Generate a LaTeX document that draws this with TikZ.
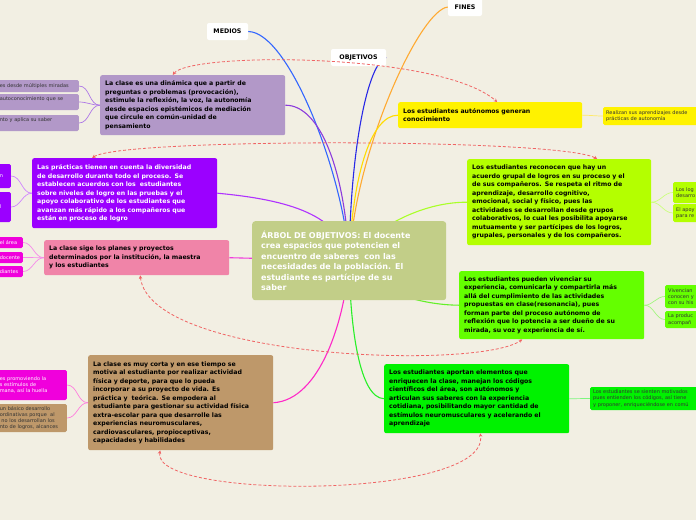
\documentclass[tikz,border=0pt]{standalone}
\usepackage{fontspec}
\setmainfont{DejaVu Sans}
\usetikzlibrary{arrows.meta,backgrounds}

\definecolor{bgcream}{RGB}{242,239,227}
\definecolor{rootgreen}{RGB}{194,206,136}
\definecolor{lilacfill}{RGB}{178,152,200}
\definecolor{violetfill}{RGB}{155,0,255}
\definecolor{pinkfill}{RGB}{240,132,168}
\definecolor{brownfill}{RGB}{190,152,106}
\definecolor{magentafill}{RGB}{240,0,220}
\definecolor{yellowfill}{RGB}{255,242,0}
\definecolor{limefill}{RGB}{180,255,0}
\definecolor{greenfill}{RGB}{100,255,0}
\definecolor{brightgreen}{RGB}{0,242,0}
\definecolor{mediosblue}{RGB}{51,102,255}
\definecolor{objblue}{RGB}{40,40,230}
\definecolor{finesorange}{RGB}{255,170,50}
\definecolor{lilacline}{RGB}{140,60,220}
\definecolor{violetline}{RGB}{175,50,255}
\definecolor{pinkline}{RGB}{240,60,220}
\definecolor{brownline}{RGB}{255,40,200}
\definecolor{yellowline}{RGB}{255,220,0}
\definecolor{limeline}{RGB}{170,255,40}
\definecolor{greenline}{RGB}{100,240,40}
\definecolor{brightline}{RGB}{40,240,40}
\definecolor{relred}{RGB}{240,100,100}

\begin{document}
\begin{tikzpicture}
  [x=1pt, y=-1pt,
   rootbox/.style={rounded corners=3pt, fill=rootgreen, text=white, anchor=north west, align=left,
                   inner xsep=9pt, font=\fontsize{8}{10.5}\selectfont\bfseries},
   topic/.style={rounded corners=2pt, anchor=north west, align=left, inner xsep=5pt,
                 font=\fontsize{6.2}{8.5}\selectfont\bfseries},
   leaf/.style={rounded corners=1.5pt, align=left, inner xsep=3pt, inner ysep=1pt, text=black!80,
                font=\fontsize{5}{6.3}\selectfont},
   tagbox/.style={rounded corners=2pt, fill=white, font=\fontsize{6.3}{7.5}\selectfont\bfseries},
   branch/.style={line width=1.1pt},
   twig/.style={line width=0.7pt},
   relation/.style={<->, >={Stealth[length=3.5pt,width=3.5pt]}, draw=relred, line width=0.8pt,
                    dash pattern=on 3pt off 2pt}]

  \useasboundingbox (0,0) rectangle (696,520);

  % centre
  \node[rootbox, minimum height=79pt, text width=176pt] (root) at (252,221)
    {ÁRBOL DE OBJETIVOS: El docente\\crea espacios que potencien el\\encuentro de saberes \ con las\\necesidades de la población. El\\estudiante es partícipe de su\\saber};

  \node[tagbox, minimum width=41pt, minimum height=17pt] (medios) at (227.5,31.5) {MEDIOS};
  \node[tagbox, minimum width=55pt, minimum height=17pt] (objetivos) at (358.5,57.5) {OBJETIVOS};
  \node[tagbox, minimum width=34pt, minimum height=18pt] (fines) at (465,7) {FINES};

  % main topics
  \node[topic, fill=lilacfill, minimum height=60pt, text width=175pt] (t1) at (100,75)
    {La clase es una dinámica que a partir de\\preguntas o problemas (provocación),\\estimule la reflexión, la voz, la autonomía\\desde espacios epistémicos de mediación\\que circule en común-unidad de\\pensamiento};
  \node[topic, fill=violetfill, text=white, minimum height=70pt, text width=175pt] (t2) at (32,158)
    {Las prácticas tienen en cuenta la diversidad\\de desarrollo durante todo el proceso. Se\\establecen acuerdos con los \ estudiantes\\sobre niveles de logro en las pruebas y el\\apoyo colaborativo de los estudiantes que\\avanzan más rápido a los compañeros que\\están en proceso de logro};
  \node[topic, fill=pinkfill, minimum height=35pt, text width=175pt] (t3) at (44,240)
    {La clase sige los planes y proyectos\\determinados por la institución, la maestra\\y los estudiantes};
  \node[topic, fill=brownfill, minimum height=95pt, text width=175pt] (t4) at (88,355)
    {La clase es muy corta y en ese tiempo se\\motiva al estudiante por realizar actividad\\física y deporte, para que lo pueda\\incorporar a su proyecto de vida. Es\\práctica y \ teórica. Se empodera al\\estudiante para gestionar su actividad física\\extra-escolar para que desarrolle las\\experiencias neuromusculares,\\cardiovasculares, propioceptivas,\\capacidades y habilidades};
  \node[topic, fill=yellowfill, minimum height=26pt, text width=174pt] (t5) at (398,102)
    {Los estudiantes autónomos generan\\conocimiento};
  \node[topic, fill=limefill, minimum height=86pt, text width=174pt] (t6) at (467,159)
    {Los estudiantes reconocen que hay un\\acuerdo grupal de logros en su proceso y el\\de sus compañeros. Se respeta el ritmo de\\aprendizaje, desarrollo cognitivo,\\emocional, social y físico, pues las\\actividades se desarrollan desde grupos\\colaborativos, lo cual les posibilita apoyarse\\mutuamente y ser partícipes de los logros,\\grupales, personales y de los compañeros.};
  \node[topic, fill=greenfill, minimum height=68pt, text width=175pt] (t7) at (459,271)
    {Los estudiantes pueden vivenciar su\\experiencia, comunicarla y compartirla más\\allá del cumplimiento de las actividades\\propuestas en clase(resonancia), pues\\forman parte del proceso autónomo de\\reflexión que lo potencia a ser dueño de su\\mirada, su voz y experiencia de sí.};
  \node[topic, fill=brightgreen, minimum height=69pt, text width=175pt] (t8) at (384,364)
    {Los estudiantes aportan elementos que\\enriquecen la clase, manejan los códigos\\científicos del área, son autónomos y\\articulan sus saberes con la experiencia\\cotidiana, posibilitando mayor cantidad de\\estímulos neuromusculares y acelerando el\\aprendizaje};

  % leaves, left side
  \node[leaf, fill=lilacfill, anchor=east, text width=76pt, minimum height=12pt] (l1) at (79,86) {es desde múltiples miradas};
  \node[leaf, fill=lilacfill, anchor=east, text width=76pt, minimum height=16pt] (l2) at (79,102) {autoconocimiento que se\\\mbox{}};
  \node[leaf, fill=lilacfill, anchor=east, text width=76pt, minimum height=16pt] (l3) at (79,123) {nto y aplica su saber\\\mbox{}};
  \node[leaf, fill=violetfill, text=white, anchor=east, text width=8pt, minimum height=24pt] (l4) at (11,176) {n};
  \node[leaf, fill=violetfill, text=white, anchor=east, text width=8pt, minimum height=30pt] (l5) at (11,207) {l};
  \node[leaf, fill=magentafill, text=white, anchor=east, text width=20pt, minimum height=11pt] (l6) at (23,242.5) {el área};
  \node[leaf, fill=magentafill, text=white, anchor=east, text width=20pt, minimum height=11pt] (l7) at (23,257.5) {docente};
  \node[leaf, fill=magentafill, text=white, anchor=east, text width=20pt, minimum height=11pt] (l8) at (23,271.5) {diantes};
  \node[leaf, fill=magentafill, text=white, anchor=east, text width=64pt, minimum height=30pt] (l9) at (67,385)
    {es promoviendo la\\s estímulos de\\mana, así la huella};
  \node[leaf, fill=brownfill, anchor=east, text width=64pt, minimum height=28pt] (l10) at (67,418)
    {un básico desarrollo\\ordinativas porque \ al\\\ no los desarrollan los\\nto de logros, alcances};

  % leaves, right side
  \node[leaf, fill=yellowfill, anchor=west, text width=110pt, minimum height=18pt] (l11) at (603,116)
    {Realizan sus aprendizajes desde\\prácticas de autonomía};
  \node[leaf, fill=limefill, anchor=west, text width=40pt, minimum height=21pt] (l12) at (673,192.5) {Los log\\desarro};
  \node[leaf, fill=limefill, anchor=west, text width=40pt, minimum height=18pt] (l13) at (673,213) {El apoy\\para re};
  \node[leaf, fill=greenfill, anchor=west, text width=40pt, minimum height=23pt] (l14) at (665,296.5) {Vivencian\\conocen y\\con su his};
  \node[leaf, fill=greenfill, anchor=west, text width=40pt, minimum height=17pt] (l15) at (665,319.5) {La produc\\acompañ};
  \node[leaf, fill=brightgreen, anchor=west, text width=120pt, minimum height=23pt] (l16) at (590,398.5)
    {Los estudiantes se sienten motivados\\pues entienden los códigos, así tiene\\y proponer, enriqueciéndose en comú};

  \begin{scope}[on background layer]
    \fill[bgcream] (0,0) rectangle (696,520);
    % branches
    \draw[branch, mediosblue] (medios.east) .. controls (290,32) and (345,180) .. (root.center);
    \draw[branch, objblue] (objetivos.east) .. controls (368,62) and (350,150) .. (root.center);
    \draw[branch, finesorange] (fines.west) .. controls (420,10) and (355,150) .. (root.center);
    \draw[branch, lilacline] (t1.east) .. controls (320,105) and (345,170) .. (root.center);
    \draw[branch, violetline] (t2.east) .. controls (290,200) and (340,215) .. (root.center);
    \draw[branch, pinkline] (t3.east) -- (root.center);
    \draw[branch, brownline] (t4.east) .. controls (320,400) and (345,320) .. (root.center);
    \draw[branch, yellowline] (t5.west) .. controls (370,115) and (352,180) .. (root.center);
    \draw[branch, limeline] (t6.west) .. controls (420,202) and (370,230) .. (root.center);
    \draw[branch, greenline] (t7.west) .. controls (420,305) and (370,290) .. (root.center);
    \draw[branch, brightline] (t8.west) .. controls (360,398) and (350,330) .. (root.center);
    % twigs
    \foreach \to in {l1,l2,l3}
      \draw[twig, lilacline!70] (t1.west) to[out=180, in=0] (\to.east);
    \foreach \to in {l4,l5}
      \draw[twig, violetline!60] (t2.west) to[out=180, in=0] (\to.east);
    \foreach \to in {l6,l7,l8}
      \draw[twig, pinkline!60] (t3.west) to[out=180, in=0] (\to.east);
    \foreach \to in {l9,l10}
      \draw[twig, brownline!60] (t4.west) to[out=180, in=0] (\to.east);
    \draw[twig, yellowline!60] (t5.east) to[out=0, in=180] (l11.west);
    \foreach \to in {l12,l13}
      \draw[twig, limeline!60] (t6.east) to[out=0, in=180] (\to.west);
    \foreach \to in {l14,l15}
      \draw[twig, greenline!60] (t7.east) to[out=0, in=180] (\to.west);
    \draw[twig, brightline!60] (t8.east) to[out=0, in=180] (l16.west);
  \end{scope}

  % relations
  \draw[relation] ([xshift=-20pt]t1.north) .. controls (190,52) and (440,52) .. ([xshift=7pt]t5.north);
  \draw[relation] ([xshift=-32.5pt]t2.north) .. controls (120,138) and (560,138) .. ([xshift=38pt]t6.north);
  \draw[relation] ([xshift=3.5pt]t3.south) .. controls (150,360) and (480,370) .. ([xshift=-29.5pt]t7.south);
  \draw[relation] ([xshift=-20.5pt]t4.south) .. controls (150,500) and (490,500) .. ([xshift=3.5pt]t8.south);
\end{tikzpicture}
\end{document}
